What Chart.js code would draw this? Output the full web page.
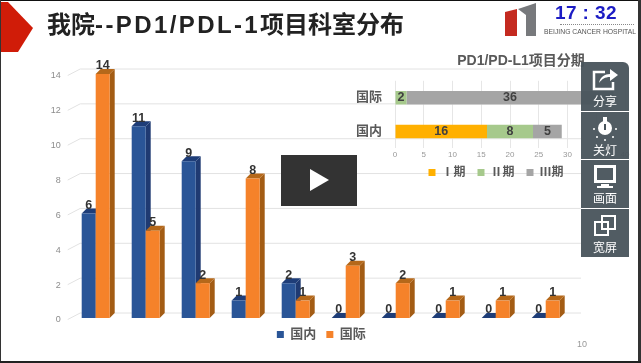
<!DOCTYPE html>
<html><head><meta charset="utf-8">
<style>
html,body{margin:0;padding:0;width:641px;height:363px;overflow:hidden;background:#fff;font-family:"Noto Sans CJK SC",sans-serif}
#main,#stage{position:absolute}
#wrapMain{position:absolute;left:0;top:0;width:641px;height:363px}
#wrapStage{position:absolute;left:350px;top:50px;width:342px;height:146px}
.abs{position:absolute}
#title{left:47px;top:10px;font:700 24px "Liberation Sans","Noto Sans CJK SC";color:#222;white-space:nowrap;line-height:30px}
#title span{letter-spacing:2.4px}
#time{left:555px;top:3px;font:700 19px "Liberation Sans";color:#1c1cc4;white-space:pre;line-height:20px;letter-spacing:.4px}
#hosp{left:544px;top:27px;font:6.8px "Liberation Sans";color:#555;white-space:nowrap;line-height:10px}
#dots{left:560px;top:24px;width:74px;border-top:1px dotted #888}
#page{left:577px;top:338px;font:9px "Liberation Sans";color:#999;line-height:12px}
#play{left:281px;top:155px;width:76px;height:51px;background:#333}
#play:after{content:"";position:absolute;left:29px;top:14px;border-left:19px solid #fff;border-top:11.5px solid transparent;border-bottom:11.5px solid transparent}
#panel{left:581px;top:62px;width:48px;height:195px;background:rgba(72,83,91,.95);border-radius:0 6px 0 0;color:#fff;text-align:center}
.cell{position:absolute;left:0;width:48px;height:48px}
.cell span{position:absolute;left:0;right:0;bottom:1px;font:12px/16px "Noto Sans CJK SC"}
.cell svg{position:absolute;left:10px;top:3px}
.sep{position:absolute;left:0;width:48px;height:1px;background:#fff}
</style>
</head><body>
<div id="wrapMain"><canvas id="main" width="641" height="363"></canvas></div>
<div id="wrapStage"><canvas id="stage" width="342" height="146"></canvas></div>
<svg class="abs" style="left:0;top:0" width="641" height="60">
<polygon points="0,2 8,2 33,28 18,52 0,52" fill="#d01c08"/>
<polygon points="505,12 517,9 517,36 505,36" fill="#c42a20"/>
<polygon points="518,9 536,3 536,36 526,36 526,15" fill="#77797c"/>
</svg>
<div id="title" class="abs">我院<span>--PD1/PDL-1</span>项目科室分布</div>
<div id="time" class="abs">17 : 32</div>
<div id="dots" class="abs"></div>
<div id="hosp" class="abs">BEIJING CANCER HOSPITAL</div>
<div id="page" class="abs">10</div>
<div id="play" class="abs"></div>
<div id="panel" class="abs">
 <div class="cell" style="top:0"><svg width="28" height="30" fill="none" stroke="#fff" stroke-width="2.5"><path d="M14 7H3V24H22V17"/><path d="M8 18C9 12 14 9 19 9V4L27 10L19 16V12C14 12 11 14 8 18Z" fill="#fff" stroke="none"/></svg><span>分享</span></div>
 <div class="sep" style="top:49px"></div>
 <div class="cell" style="top:49px"><svg width="28" height="30" fill="#fff"><circle cx="14" cy="14" r="7"/><rect x="12" y="3" width="4" height="6"/><rect x="13" y="10" width="2" height="6" fill="#48535b"/><circle cx="3" cy="15" r="1"/><circle cx="25" cy="15" r="1"/><circle cx="6" cy="23" r="1"/><circle cx="22" cy="23" r="1"/><circle cx="14" cy="26" r="1"/></svg><span>关灯</span></div>
 <div class="sep" style="top:97px"></div>
 <div class="cell" style="top:97px"><svg width="28" height="30" fill="none" stroke="#fff" stroke-width="3"><rect x="4.5" y="4.5" width="19" height="15"/><path d="M10 22H18V24H22V26H6V24H10Z" fill="#fff" stroke="none"/></svg><span>画面</span></div>
 <div class="sep" style="top:146px"></div>
 <div class="cell" style="top:146px"><svg width="28" height="30" fill="none" stroke="#fff" stroke-width="2"><rect x="4" y="11" width="13" height="13"/><rect x="11" y="5" width="13" height="13"/></svg><span>宽屏</span></div>
</div>
<div class="abs" style="left:0;top:0;width:641px;height:1px;background:#111"></div>
<div class="abs" style="left:0;top:0;width:1px;height:363px;background:#333"></div>
<div class="abs" style="left:638px;top:0;width:3px;height:363px;background:#333"></div>
<div class="abs" style="left:0;top:361px;width:641px;height:2px;background:#222"></div>

<script src="https://cdn.jsdelivr.net/npm/chart.js@4"></script>
<script>
// Main chart data (departments are unlabelled in the picture)
const categories = ['', '', '', '', '', '', '', '', '', ''];
const domestic = [6, 11, 9, 1, 2, 0, 0, 0, 0, 0];
const international = [14, 5, 2, 8, 1, 3, 2, 1, 1, 1];
const seriesNames = ['国内', '国际'];
const yTicksStep = 2;
// Stage chart data
const stageCategories = ['国际', '国内'];
const stageOne = [0, 16];
const stageTwo = [2, 8];
const stageThree = [36, 5];
const stageNames = ['Ⅰ期', 'Ⅱ期', 'Ⅲ期'];
const stageTitle = 'PD1/PD-L1项目分期';

const CJK = '"Liberation Sans","Noto Sans CJK SC"';
const DEPTH = 5;

const backWall = {
  id: 'backWall',
  afterLayout(chart) { chart.legend.left += 16; chart.legend.right += 16; },
  beforeDatasetsDraw(chart) {
    const y = chart.scales.y, ctx = chart.ctx, left = chart.chartArea.left;
    ctx.save(); ctx.strokeStyle = '#e2e2e2'; ctx.lineWidth = 1;
    y.ticks.forEach(t => {
      const py = y.getPixelForValue(t.value);
      ctx.beginPath();
      ctx.moveTo(left - 3, py + 1.5);
      ctx.lineTo(left + 9.5, py - DEPTH);
      ctx.lineTo(581, py - DEPTH);
      ctx.stroke();
    });
    ctx.restore();
  }
};

function drawFaces(chart, index) {
  const ctx = chart.ctx, ds = chart.data.datasets[index], meta = chart.getDatasetMeta(index);
  const base = chart.scales.y.getPixelForValue(0);
  ctx.save();
  meta.data.forEach(b => {
    const l = b.x - b.width / 2, r = b.x + b.width / 2, t = b.y;
    ctx.fillStyle = ds.sideColor;
    ctx.beginPath();
    ctx.moveTo(r, t); ctx.lineTo(r + DEPTH, t - DEPTH); ctx.lineTo(r + DEPTH, base - DEPTH); ctx.lineTo(r, base);
    ctx.closePath(); ctx.fill();
    ctx.fillStyle = ds.topColor;
    ctx.beginPath();
    ctx.moveTo(l, t); ctx.lineTo(l + DEPTH, t - DEPTH); ctx.lineTo(r + DEPTH, t - DEPTH); ctx.lineTo(r, t);
    ctx.closePath(); ctx.fill();
  });
  ctx.restore();
}

const extrude = {
  id: 'extrude',
  beforeDatasetDraw(chart, args) {
    // The second series has to lie over the first, so it is drawn last.
    if (args.index === 1) return false;
    drawFaces(chart, args.index);
  },
  afterDatasetsDraw(chart) {
    drawFaces(chart, 1);
    chart.getDatasetMeta(1).controller.draw();
    const ctx = chart.ctx;
    ctx.save();
    ctx.font = '700 12.5px "Liberation Sans"';
    ctx.fillStyle = '#333'; ctx.textAlign = 'center'; ctx.textBaseline = 'middle';
    chart.data.datasets.forEach((ds, i) => {
      chart.getDatasetMeta(i).data.forEach((b, j) => {
        ctx.fillText(String(ds.data[j]), b.x, b.y - 8);
      });
    });
    ctx.restore();
  }
};

new Chart(document.getElementById('main'), {
  type: 'bar',
  data: {
    labels: categories,
    datasets: [
      { label: seriesNames[0], data: domestic, backgroundColor: '#2a5597', sideColor: '#1f3a72', topColor: '#1e3d78', categoryPercentage: 0.56, barPercentage: 1 },
      { label: seriesNames[1], data: international, backgroundColor: '#f5822a', sideColor: '#a35c14', topColor: '#b5681a', categoryPercentage: 0.56, barPercentage: 1 }
    ]
  },
  plugins: [backWall, extrude],
  options: {
    responsive: false, animation: false,
    layout: { padding: { left: 40, right: 70.3, top: 74, bottom: 12 } },
    plugins: {
      tooltip: { enabled: false },
      legend: { position: 'bottom', labels: { boxWidth: 7, boxHeight: 7, padding: 10, color: '#595959', font: { family: CJK, size: 13, weight: 'bold' } } }
    },
    scales: {
      x: { display: false },
      y: {
        min: 0, max: 14,
        afterFit(s) { s.width = 30.7; },
        grid: { display: false, drawTicks: false }, border: { display: false },
        ticks: { stepSize: yTicksStep, padding: 10, labelOffset: 2, color: '#8c8c8c', font: { family: 'Liberation Sans', size: 9 } }
      }
    }
  }
});

const stageLabels = {
  id: 'stageLabels',
  afterDatasetsDraw(chart) {
    const ctx = chart.ctx;
    ctx.save();
    ctx.font = '700 12.5px "Liberation Sans"';
    ctx.fillStyle = '#404040'; ctx.textAlign = 'center'; ctx.textBaseline = 'middle';
    chart.data.datasets.forEach((ds, i) => {
      chart.getDatasetMeta(i).data.forEach((b, j) => {
        if (ds.data[j]) ctx.fillText(String(ds.data[j]), (b.x + b.base) / 2, b.y);
      });
    });
    ctx.restore();
  },
  afterLayout(chart) {
    chart.legend.left += 8.5; chart.legend.right += 8.5;
    chart.legend.top -= 7.5; chart.legend.bottom -= 7.5;
    chart.titleBlock.left += 33.5; chart.titleBlock.right += 33.5;
  }
};

new Chart(document.getElementById('stage'), {
  type: 'bar',
  data: {
    labels: stageCategories,
    datasets: [
      { label: stageNames[0], data: stageOne, backgroundColor: '#ffb000' },
      { label: stageNames[1], data: stageTwo, backgroundColor: '#a6c98c' },
      { label: stageNames[2], data: stageThree, backgroundColor: '#a5a5a5' }
    ]
  },
  plugins: [stageLabels],
  options: {
    indexAxis: 'y', responsive: false, animation: false,
    layout: { padding: { left: 0, right: 67, top: 0, bottom: 0 } },
    datasets: { bar: { categoryPercentage: 0.4, barPercentage: 1 } },
    plugins: {
      tooltip: { enabled: false },
      title: { display: true, text: stageTitle, color: '#595959', font: { family: CJK, size: 14, weight: 'bold' }, padding: { top: 3, bottom: 11 } },
      legend: { position: 'bottom', labels: { boxWidth: 7, boxHeight: 7, padding: 12, color: '#595959', font: { family: CJK, size: 12, weight: 'bold' } } }
    },
    scales: {
      x: {
        stacked: true, min: 0, max: 40,
        grid: { color: '#e6e6e6', drawTicks: false }, border: { display: false },
        ticks: { stepSize: 5, padding: 2, color: '#999', maxRotation: 0, font: { family: 'Liberation Sans', size: 8 } }
      },
      y: {
        stacked: true,
        afterFit(s) { s.width = 45; },
        grid: { display: false, drawTicks: false }, border: { display: false },
        ticks: { padding: 13, color: '#595959', font: { family: CJK, size: 13, weight: 'bold' } }
      }
    }
  }
});
</script>
</body></html>
